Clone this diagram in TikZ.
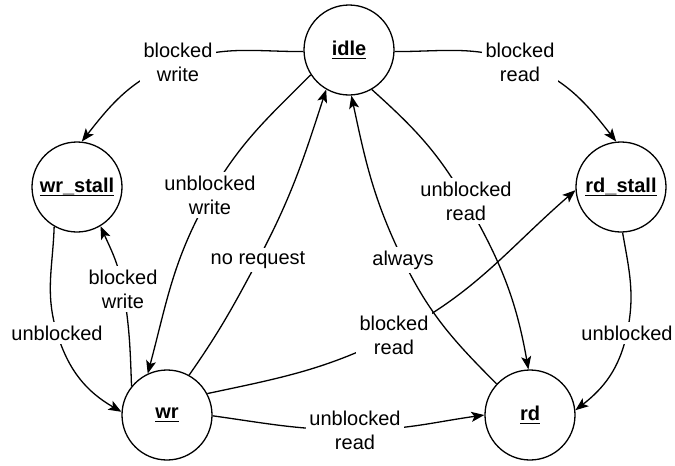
\documentclass[tikz,border=0pt]{standalone}
\usepackage{fontspec}
\setmainfont{Liberation Sans}
\usetikzlibrary{arrows.meta}
% bold, underlined state name
\newcommand\statename[1]{\setbox0\hbox{\bfseries #1}\rlap{\rule[-3.4pt]{\wd0}{1.4pt}}\box0}
\begin{document}
\begin{tikzpicture}[x=1pt,y=1pt,
  state/.style={circle,draw,line width=1.3pt,minimum size=90pt,inner sep=0pt,
                font=\fontsize{20}{24}\selectfont},
  lab/.style={fill=white,align=center,inner sep=3.8pt,
              font=\fontsize{20}{24}\selectfont},
  tr/.style={line width=1.3pt,-{Stealth[length=13pt,width=10pt,inset=3pt]}}]
\useasboundingbox (0,0) rectangle (675,-466);

% states
\node[state] (idle)    at (349,-50)  {\statename{idle}};
\node[state] (wrstall) at (77,-187)  {\statename{wr\_stall}};
\node[state] (rdstall) at (621,-187) {\statename{rd\_stall}};
\node[state] (wr)      at (167,-415) {\statename{wr}};
\node[state] (rd)      at (530,-415) {\statename{rd}};

% label positions
\coordinate (pIdleWs) at (178,-62);
\coordinate (pIdleRs) at (520,-62);
\coordinate (pWsWr)   at (57,-333);
\coordinate (pRsRd)   at (627,-333);
\coordinate (pWrWs)   at (123,-289);
\coordinate (pIdleWr) at (210,-195);
\coordinate (pWrIdle) at (258,-260);
\coordinate (pRdIdle) at (403,-260);
\coordinate (pIdleRd) at (466,-201);
\coordinate (pWrRs)   at (394,-335);
\coordinate (pWrRd)   at (355,-430);

% transitions
\draw[tr] (idle.182) to[out=180,in=20] (pIdleWs) to[out=200,in=52] (wrstall.84);
\draw[tr] (idle.-2) to[out=0,in=160] (pIdleRs) to[out=-20,in=128] (rdstall.96);
\draw[tr] (wrstall.240) to[out=-92,in=107] (pWsWr) to[out=-73,in=150] (wr.176);
\draw[tr] (rdstall.-88) to[out=-80,in=78] (pRsRd) to[out=-102,in=38] (rd.6);
\draw[tr] (wr.141) to[out=92,in=-80] (pWrWs) to[out=100,in=-66] (wrstall.-59);
\draw[tr] (idle.213) to[out=225,in=60] (pIdleWr) to[out=240,in=75] (wr.115);
\draw[tr] (wr.61) to[out=55,in=-118] (pWrIdle) to[out=62,in=-108] (idle.240);
\draw[tr] (rd.137) to[out=135,in=-64] (pRdIdle) to[out=116,in=-78] (idle.-87);
\draw[tr] (idle.-60) to[out=-42,in=120] (pIdleRd) to[out=-60,in=100] (rd.92);
\draw[tr] (wr.28) to[out=12,in=-153] (pWrRs) to[out=27,in=-139] (rdstall.184);
\draw[tr] (wr.-1) to[out=-8,in=180] (pWrRd) to[out=0,in=188] (rd.180);

% transition labels
\node[lab] (lIdleWs) at (pIdleWs) {blocked\\write};
\node[lab] (lIdleRs) at (pIdleRs) {blocked\\read};
\node[lab] (lWsWr)   at (pWsWr)   {unblocked};
\node[lab] (lRsRd)   at (pRsRd)   {unblocked};
\node[lab] (lWrWs)   at (pWrWs)   {blocked\\write};
\node[lab] (lIdleWr) at (pIdleWr) {unblocked\\write};
\node[lab] (lWrIdle) at (pWrIdle) {no request};
\node[lab] (lRdIdle) at (pRdIdle) {always};
\node[lab] (lIdleRd) at (pIdleRd) {unblocked\\read};
\node[lab] (lWrRs)   at (pWrRs)   {blocked\\read};
\node[lab] (lWrRd)   at (pWrRd)   {unblocked\\read};
\end{tikzpicture}
\end{document}
